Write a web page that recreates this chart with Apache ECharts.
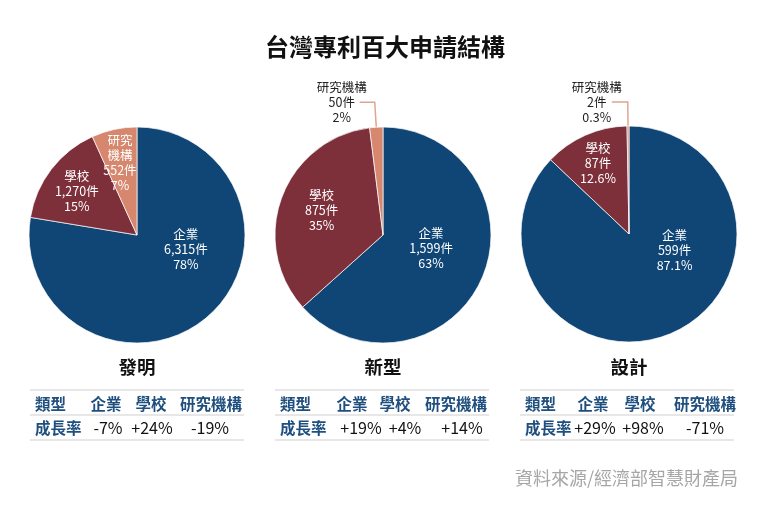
<!DOCTYPE html>
<html>
<head>
<meta charset="utf-8">
<script src="https://cdn.jsdelivr.net/npm/echarts@6/dist/echarts.min.js"></script>
<style>
html, body { margin: 0; padding: 0; background: #fff; }
#main { width: 770px; height: 511px; }
</style>
</head>
<body>
<div id="main"></div>
<script>
// 類別與各圖件數
const categories = ['企業', '學校', '研究機構'];
const pieTitles = ['發明', '新型', '設計'];
const inventCounts = [6315, 1270, 552];
const utilityCounts = [1599, 875, 50];
const designCounts = [599, 87, 2];
// 圖上標示的百分比
const inventPct = ['78%', '15%', '7%'];
const utilityPct = ['63%', '35%', '2%'];
const designPct = ['87.1%', '12.6%', '0.3%'];
// 成長率表
const tableHeads = ['類型', '企業', '學校', '研究機構'];
const growthName = '成長率';
const inventGrowth = ['-7%', '+24%', '-19%'];
const utilityGrowth = ['+19%', '+4%', '+14%'];
const designGrowth = ['+29%', '+98%', '-71%'];
const sourceText = '資料來源/經濟部智慧財產局';

const colors = ['#104676', '#7d2f3a', '#d6876d'];
const font = '"Noto Sans CJK TC", "Noto Sans", sans-serif';

// 每個圓餅的版面 (中心、標籤微調、外部標籤線)
const pies = [
  { counts: inventCounts, pct: inventPct, growth: inventGrowth, cx: 137, cy: 235,
    nudge: [[12, -29], [-15, -9], [-5, -17]], wrap: true,
    tableLeft: 30, headX: [76, 121, 181], valX: [78, 122, 180] },
  { counts: utilityCounts, pct: utilityPct, growth: utilityGrowth, cx: 383, cy: 235,
    nudge: [[-4, -10], [-8, -5], null], outside: { len: 25, len2: 15, dist: -8 },
    tableLeft: 275, headX: [77, 120, 181], valX: [86, 130, 187] },
  { counts: designCounts, pct: designPct, growth: designGrowth, cx: 629, cy: 234,
    nudge: [[23, -36], [-8, -19], null], outside: { len: 24, len2: 16, dist: -11 },
    tableLeft: 520, headX: [73, 120, 185], valX: [75, 123, 185] }
];

let myChart = echarts.init(document.getElementById('main'));

let series = pies.map(function (p, si) {
  let data = categories.map(function (name, i) {
    let item = { name: name, value: p.counts[i], itemStyle: { color: colors[i] } };
    if (i === 2 && p.outside) {
      item.label = {
        position: 'outside',
        distanceToLabelLine: p.outside.dist,
        formatter: '{o|' + name + '}\n{o|' + p.counts[i].toLocaleString('en-US') + '件}\n{o|' + p.pct[i] + '}',
        rich: { o: { width: 52, align: 'center', color: '#222', fontSize: 12.5, lineHeight: 15, fontFamily: font } }
      };
      item.labelLine = { show: true, length: p.outside.len, length2: p.outside.len2, lineStyle: { width: 1.5, color: '#e0a58f' } };
    }
    return item;
  });
  return {
    type: 'pie',
    radius: 108,
    center: [p.cx, p.cy],
    startAngle: 90,
    clockwise: true,
    avoidLabelOverlap: false,
    silent: true,
    animation: false,
    itemStyle: { borderColor: '#fff', borderWidth: 0.7 },
    label: {
      position: 'inside',
      color: '#fff',
      fontSize: 12.5,
      lineHeight: 15,
      fontFamily: font,
      formatter: function (prm) {
        let i = prm.dataIndex;
        let nm = (p.wrap && i === 2) ? '研究\n機構' : prm.name;
        return nm + '\n' + p.counts[i].toLocaleString('en-US') + '件\n' + p.pct[i];
      }
    },
    labelLine: { show: false },
    labelLayout: function (prm) {
      let nd = pies[prm.seriesIndex].nudge[prm.dataIndex];
      if (!nd) return { labelLinePoints: prm.labelLinePoints };
      return {
        x: prm.labelRect.x + prm.labelRect.width / 2 + nd[0],
        y: prm.labelRect.y + prm.labelRect.height / 2 + nd[1]
      };
    },
    data: data
  };
});

// 表格與文字
let graphics = [];
pies.forEach(function (p) {
  let L = p.tableLeft;
  [390, 415, 440].forEach(function (y) {
    graphics.push({ type: 'line', shape: { x1: L, y1: y, x2: L + 214, y2: y }, style: { stroke: '#cfcfcf', lineWidth: 1 } });
  });
  let headStyle = { fill: '#1f4f7e', fontSize: 15.5, fontWeight: 'bold', fontFamily: font, verticalAlign: 'middle' };
  graphics.push({ type: 'text', x: L + 5, y: 404, style: Object.assign({ text: tableHeads[0], align: 'left' }, headStyle) });
  p.headX.forEach(function (x, i) {
    graphics.push({ type: 'text', x: L + x, y: 404, style: Object.assign({ text: tableHeads[i + 1], align: 'center' }, headStyle) });
  });
  graphics.push({ type: 'text', x: L + 5, y: 428, style: Object.assign({ text: growthName, align: 'left' }, headStyle) });
  p.valX.forEach(function (x, i) {
    graphics.push({ type: 'text', x: L + x, y: 428, style: { text: p.growth[i], align: 'center', verticalAlign: 'middle', fill: '#111', fontSize: 16, fontFamily: font } });
  });
});
graphics.push({ type: 'text', x: 738, y: 478, style: { text: sourceText, align: 'right', verticalAlign: 'middle', fill: '#a6a6a6', fontSize: 18, fontFamily: font } });

let titles = [{ text: '台灣專利百大申請結構', left: 'center', top: 34, padding: 0,
  textStyle: { fontSize: 24, fontWeight: 'bold', color: '#111', fontFamily: font, lineHeight: 26 } }];
pieTitles.forEach(function (t, i) {
  titles.push({ text: t, left: pies[i].cx, textAlign: 'center', top: 356, padding: 0,
    textStyle: { fontSize: 18.5, fontWeight: 'bold', color: '#111', fontFamily: font, lineHeight: 22 } });
});

let option = {
  backgroundColor: '#fff',
  animation: false,
  title: titles,
  series: series,
  graphic: graphics
};
myChart.setOption(option);
</script>
</body>
</html>
